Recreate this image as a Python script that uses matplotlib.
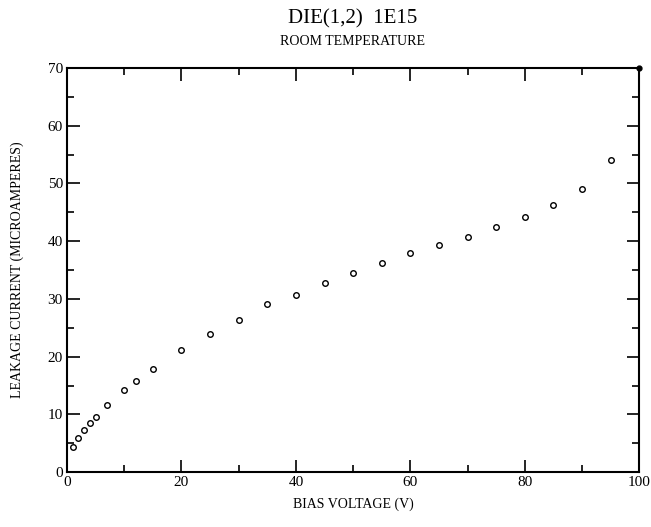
import matplotlib
matplotlib.use("Agg")
import matplotlib.pyplot as plt
from matplotlib.ticker import MultipleLocator

plt.rcParams['font.family'] = ['Liberation Serif', 'DejaVu Serif']

# bias voltage (V) and leakage current (microamperes)
bias_v = [1, 2, 3, 4, 5, 7, 10, 12, 15, 20, 25, 30, 35, 40, 45, 50,
          55, 60, 65, 70, 75, 80, 85, 90, 95]
current_ua = [4.3, 5.9, 7.3, 8.5, 9.5, 11.6, 14.2, 15.8, 17.8, 21.1, 23.9,
              26.3, 29.1, 30.7, 32.8, 34.5, 36.2, 38.0, 39.3, 40.7, 42.5,
              44.2, 46.3, 49.0, 54.1]
# last reading, off the scale at the corner
end_v = [100]
end_ua = [70]

fig = plt.figure(figsize=(6.51, 5.27), dpi=100)
ax = fig.add_axes([0.103, 0.104, 0.879, 0.767])

ax.plot(bias_v, current_ua, 'o', mfc='white', mec='black', ms=4, mew=1.0,
        clip_on=False)
ax.plot(end_v, end_ua, 'o', color='black', ms=3.5, clip_on=False, zorder=5)

ax.set_xlim(0, 100)
ax.set_ylim(0, 70)
ax.xaxis.set_major_locator(MultipleLocator(20))
ax.xaxis.set_minor_locator(MultipleLocator(10))
ax.yaxis.set_major_locator(MultipleLocator(10))
ax.yaxis.set_minor_locator(MultipleLocator(5))
ax.tick_params(which='both', direction='in', top=True, right=True,
               labelsize=11, width=1.2, pad=3)
ax.tick_params(which='major', length=9)
ax.tick_params(which='minor', length=5)
for s in ax.spines.values():
    s.set_linewidth(1.5)

ax.set_xlabel('BIAS VOLTAGE (V)', fontsize=10, labelpad=6)
ax.set_ylabel('LEAKAGE CURRENT (MICROAMPERES)', fontsize=10, labelpad=17)

fig.text(0.542, 0.965, 'DIE(1,2)  1E15', ha='center', va='center', fontsize=15)
fig.text(0.542, 0.921, 'ROOM TEMPERATURE', ha='center', va='center', fontsize=10)

fig.savefig('out.png', dpi=100)
